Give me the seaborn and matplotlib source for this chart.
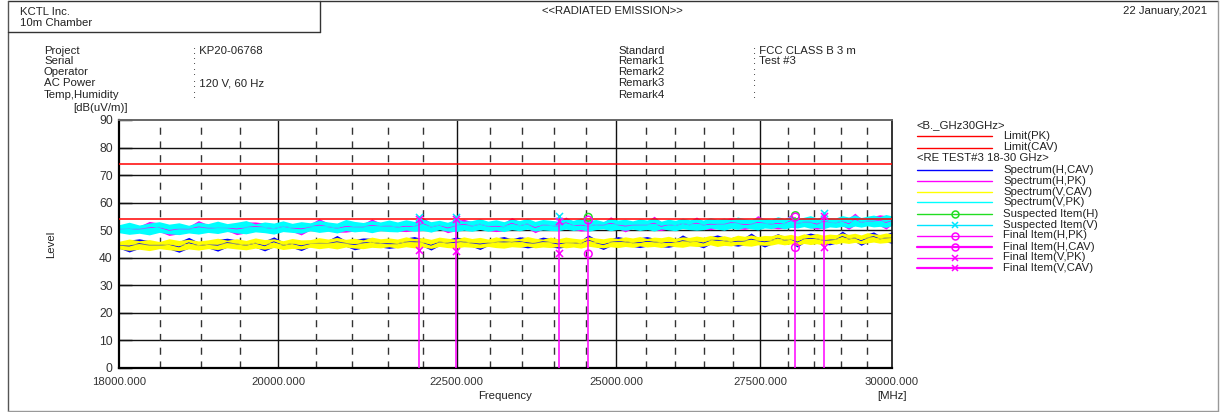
import numpy as np
import pandas as pd
import matplotlib
matplotlib.use("Agg")
import matplotlib.pyplot as plt
from matplotlib.lines import Line2D
from matplotlib.ticker import FixedLocator, NullLocator, MultipleLocator, FuncFormatter
import seaborn as sns

# ---------------- measurement data ----------------
F_START, F_STOP = 18000.0, 30000.0          # sweep span [MHz]
LIMIT_PK, LIMIT_CAV = 74.0, 54.0             # FCC class B limits [dB(uV/m)]

# Spectrum traces: per-sweep-bin minimum / maximum level [dB(uV/m)]
VPK_HI = [52.0, 52.9, 51.9, 52.6, 53.1, 52.2, 52.7, 51.8, 52.9, 52.4,
          53.3, 52.4, 52.9, 53.5, 52.3, 53.0, 52.6, 53.4, 52.5, 53.1,
          52.7, 53.6, 53.0, 52.6, 53.9, 53.2, 52.8, 53.5, 53.0, 53.7,
          53.0, 53.8, 53.2, 54.1, 53.1, 53.6, 52.9, 53.9, 53.3, 53.5,
          54.2, 53.3, 53.8, 53.1, 54.0, 53.5, 54.3, 53.2, 53.9, 53.6,
          53.3, 54.2, 53.6, 54.4, 53.5, 53.9, 53.2, 54.3, 53.7, 54.0,
          53.4, 54.1, 53.7, 54.5, 53.3, 54.0, 53.6, 54.4, 53.8, 54.2,
          53.7, 54.6, 54.0, 54.4, 53.8, 54.8, 54.2, 53.9, 54.7, 54.3,
          54.0, 54.9, 54.3, 55.1, 54.2, 54.7, 55.3, 54.4, 54.9, 54.6,
          54.5, 55.3, 54.8, 55.6, 54.6, 55.1, 55.5, 54.9, 55.7, 55.2]
VPK_LO = [49.1, 48.5, 48.9, 48.3, 49.2, 48.7, 48.4, 49.0, 48.6, 49.2,
          48.8, 49.5, 49.0, 48.7, 49.4, 49.1, 48.6, 49.5, 49.2, 48.9,
          49.8, 49.2, 49.6, 49.0, 49.9, 49.4, 49.7, 49.1, 49.8, 49.5,
          49.4, 50.1, 49.6, 49.9, 49.3, 50.2, 49.7, 49.5, 50.0, 49.6,
          50.3, 49.6, 50.1, 49.5, 50.2, 49.8, 50.4, 49.7, 50.1, 49.9,
          49.8, 50.4, 49.9, 50.3, 49.6, 50.2, 50.5, 49.8, 50.3, 50.0,
          50.4, 49.9, 50.3, 49.7, 50.5, 50.1, 49.8, 50.6, 50.2, 50.0,
          50.2, 50.8, 50.4, 50.0, 50.7, 50.3, 50.9, 50.5, 50.1, 50.8,
          50.6, 51.1, 50.5, 51.0, 50.8, 51.3, 50.7, 51.0, 50.5, 51.2,
          51.0, 51.4, 50.9, 51.5, 51.1, 51.6, 51.2, 51.4, 51.0, 51.7]
HPK_HI = [51.6, 52.4, 51.5, 53.2, 52.6, 51.8, 52.3, 51.4, 53.5, 52.0,
          52.8, 52.0, 52.5, 53.0, 53.0, 52.6, 52.2, 53.0, 52.1, 52.7,
          52.3, 54.2, 52.6, 52.2, 53.4, 52.8, 52.4, 54.1, 52.6, 53.3,
          52.6, 53.4, 52.8, 54.7, 52.7, 53.2, 52.5, 53.5, 54.0, 53.1,
          53.8, 52.9, 53.4, 52.7, 54.6, 53.1, 53.9, 52.8, 53.5, 53.2,
          52.9, 54.8, 53.2, 54.0, 53.1, 53.5, 52.8, 54.9, 53.3, 53.6,
          53.0, 53.7, 53.3, 55.1, 52.9, 53.6, 53.2, 54.0, 53.4, 54.8,
          53.3, 54.2, 53.6, 54.0, 54.5, 54.4, 53.8, 53.5, 55.3, 53.9,
          53.6, 54.5, 53.9, 55.7, 53.8, 54.3, 54.9, 54.0, 55.5, 54.2,
          54.1, 54.9, 54.4, 56.2, 54.2, 54.7, 55.1, 55.6, 55.3, 54.8]
HPK_LO = [49.4, 48.8, 49.2, 48.6, 49.5, 48.1, 48.7, 49.3, 48.9, 49.5,
          49.1, 49.8, 48.4, 49.0, 49.7, 49.4, 48.9, 49.8, 49.5, 48.3,
          50.1, 49.5, 49.9, 49.3, 49.3, 49.7, 50.0, 49.4, 50.1, 49.8,
          49.7, 49.5, 49.9, 50.2, 49.6, 50.5, 49.1, 49.8, 50.3, 49.9,
          50.6, 49.9, 49.5, 49.8, 50.5, 50.1, 50.7, 49.1, 50.4, 50.2,
          50.1, 50.7, 50.2, 49.7, 49.9, 50.5, 50.8, 50.1, 50.6, 49.4,
          50.7, 50.2, 50.6, 50.0, 49.9, 50.4, 50.1, 50.9, 50.5, 50.3,
          50.5, 50.2, 50.7, 50.3, 51.0, 50.6, 50.3, 50.8, 50.4, 51.1,
          50.9, 50.5, 50.8, 51.3, 51.1, 51.6, 51.0, 50.4, 50.8, 51.5,
          51.3, 51.7, 50.3, 51.8, 51.4, 51.9, 51.5, 51.7, 50.4, 52.0]
VCAV_HI = [46.0, 46.8, 46.2, 46.6, 45.9, 46.9, 46.3, 46.7, 46.1, 46.5,
           47.1, 46.4, 46.9, 46.3, 47.2, 46.6, 46.9, 46.2, 47.0, 46.5,
           46.6, 47.3, 46.8, 47.4, 46.7, 47.1, 46.5, 47.5, 46.9, 47.2,
           46.8, 47.6, 47.0, 47.3, 46.7, 47.5, 47.1, 46.8, 47.6, 47.0,
           47.4, 46.8, 47.6, 47.0, 47.3, 46.9, 47.7, 47.1, 46.8, 47.5,
           46.9, 47.5, 47.1, 46.8, 47.6, 47.2, 46.9, 47.4, 47.0, 47.6,
           47.2, 47.7, 47.0, 47.5, 47.3, 47.8, 47.1, 47.6, 47.4, 47.9,
           47.5, 48.1, 47.6, 48.0, 47.4, 48.2, 47.8, 48.3, 47.7, 48.1,
           48.0, 48.6, 48.1, 48.5, 47.9, 48.7, 48.3, 48.8, 48.2, 48.6,
           48.4, 49.0, 48.5, 48.9, 48.3, 49.1, 48.7, 48.5, 49.0, 48.8]
VCAV_LO = [43.2, 42.7, 43.1, 42.6, 43.3, 42.9, 42.6, 43.2, 42.8, 43.3,
           43.0, 43.6, 43.2, 42.9, 43.5, 43.1, 43.7, 43.0, 43.4, 43.2,
           43.8, 43.3, 43.7, 43.2, 43.9, 43.5, 43.3, 43.8, 43.6, 44.0,
           43.5, 44.0, 43.6, 43.9, 43.4, 44.1, 43.7, 43.5, 44.0, 43.8,
           43.6, 44.1, 43.7, 43.5, 44.0, 43.8, 44.2, 43.6, 43.9, 43.7,
           44.1, 43.6, 43.9, 43.5, 44.2, 43.8, 43.6, 44.0, 43.7, 44.1,
           43.8, 44.3, 43.9, 44.1, 43.7, 44.4, 44.0, 43.8, 44.3, 44.1,
           44.2, 44.7, 44.1, 44.5, 44.3, 44.8, 44.4, 44.2, 44.7, 44.5,
           44.6, 45.1, 44.7, 45.0, 44.5, 45.2, 44.8, 45.1, 44.6, 45.3,
           45.0, 45.5, 45.2, 45.6, 45.1, 45.4, 45.7, 45.3, 45.5, 45.8]
HCAV_HI = [45.6, 46.4, 46.9, 46.2, 45.5, 46.5, 45.9, 47.4, 45.7, 46.1,
           46.7, 47.1, 46.5, 45.9, 46.8, 46.2, 47.6, 45.8, 46.6, 46.1,
           46.2, 46.9, 46.4, 48.1, 46.3, 46.7, 47.2, 47.1, 46.5, 46.8,
           46.4, 47.2, 47.7, 46.9, 46.3, 47.1, 46.7, 47.5, 47.2, 46.6,
           47.0, 46.4, 47.2, 47.7, 46.9, 47.6, 47.3, 46.7, 47.5, 47.1,
           46.5, 47.1, 46.7, 46.4, 48.3, 46.8, 46.5, 47.0, 47.7, 47.2,
           46.8, 47.3, 47.7, 47.1, 46.9, 47.4, 46.7, 48.3, 47.0, 47.5,
           47.1, 47.7, 48.3, 47.6, 47.0, 47.8, 47.4, 49.0, 47.3, 47.7,
           47.6, 48.8, 47.7, 48.1, 47.5, 48.3, 49.0, 48.4, 47.8, 48.2,
           48.0, 49.7, 48.1, 48.5, 47.9, 48.7, 49.4, 48.1, 48.6, 49.5]
HCAV_LO = [43.5, 42.1, 43.4, 42.9, 43.6, 43.2, 42.0, 43.5, 43.1, 43.6,
           42.4, 43.9, 43.5, 43.2, 43.8, 42.5, 44.0, 43.3, 43.7, 42.6,
           44.1, 43.6, 44.0, 43.5, 44.2, 42.9, 43.6, 44.1, 43.9, 43.4,
           43.8, 44.3, 43.9, 44.2, 42.8, 44.4, 44.0, 43.8, 44.3, 44.1,
           43.0, 44.4, 44.0, 43.8, 44.3, 44.1, 43.6, 43.9, 44.2, 44.0,
           43.5, 43.9, 44.2, 43.8, 44.5, 44.1, 43.0, 44.3, 44.0, 44.4,
           44.1, 43.7, 44.2, 44.4, 44.0, 43.8, 44.3, 44.1, 44.6, 44.4,
           43.6, 45.0, 44.4, 44.8, 44.6, 44.2, 44.7, 44.5, 45.0, 43.9,
           44.9, 45.4, 45.0, 45.3, 43.9, 45.5, 45.1, 45.4, 44.9, 44.7,
           45.3, 45.8, 45.5, 45.9, 44.5, 45.7, 46.0, 45.6, 45.8, 45.2]

# Final measurement points
FINAL_FREQ = [21950, 22495, 24070, 24545, 28145, 28680]       # MHz
FINAL_POL = ["V", "V", "V", "H", "H", "V"]
SUSPECT_LEVEL = [54.7, 54.7, 55.2, 54.7, 55.3, 56.1]
FINAL_PK = [54.0, 54.0, 53.5, 53.7, 54.8, 55.3]
FINAL_CAV = [42.8, 42.6, 41.6, 41.4, 43.7, 44.0]

# Axis ticks
X_MAJOR = [18000, 20000, 22500, 25000, 27500, 30000]
X_MINOR = [18500, 19000, 19500, 20500, 21000, 21500, 22000, 23000, 23500,
           24000, 24500, 25500, 26000, 26500, 27000, 28000, 28500, 29000, 29500]

TRACE_ORDER = ["H,CAV", "H,PK", "V,CAV", "V,PK"]
TRACE_COLORS = {"H,CAV": "#0000ff", "H,PK": "#ff00ff",
                "V,CAV": "#ffff00", "V,PK": "#00ffff"}
RED, MAG, GREEN, CYAN = "#ff0000", "#ff00ff", "#22dd22", "#00e5ff"
TXT = "#222222"
FS = 8.2

# ---------------- figure ----------------
sns.set_style("white")
plt.rcParams["font.family"] = ["Liberation Sans", "DejaVu Sans"]
plt.rcParams["lines.scale_dashes"] = False

W, H = 1226, 412
fig = plt.figure(figsize=(W / 100, H / 100), dpi=100)
fig.patch.set_facecolor("white")


def fx(x):
    return x / W


def fy(y):
    return 1 - y / H


def put(x, y, s, **kw):
    kw.setdefault("fontsize", FS)
    kw.setdefault("color", TXT)
    kw.setdefault("va", "center")
    fig.text(fx(x), fy(y), s, **kw)


def fline(x0, y0, x1, y1, **kw):
    fig.add_artist(Line2D([fx(x0), fx(x1)], [fy(y0), fy(y1)],
                          transform=fig.transFigure, **kw))


# page frame and company box
fline(7.5, 1, 1218, 1, color="#333333", lw=1)
fline(7.5, 1, 7.5, 410.5, color="#555555", lw=1)
fline(7.5, 410.5, 1218, 410.5, color="#999999", lw=1)
fline(1218, 1, 1218, 410.5, color="#999999", lw=1)
fline(320, 1, 320, 32, color="#333333", lw=1)
fline(7.5, 32, 320, 32, color="#333333", lw=1)

put(20, 12, "KCTL Inc.")
put(20, 23.5, "10m Chamber")
put(612, 11, "<<RADIATED EMISSION>>", ha="center")
put(1207, 11, "22 January,2021", ha="right")

info_y = [51, 61.5, 72, 83, 94.5]
for y, lab, val in zip(info_y,
                       ["Project", "Serial", "Operator", "AC Power", "Temp,Humidity"],
                       [": KP20-06768", ":", ":", ": 120 V, 60 Hz", ":"]):
    put(44, y, lab)
    put(193, y, val)
for y, lab, val in zip(info_y,
                       ["Standard", "Remark1", "Remark2", "Remark3", "Remark4"],
                       [": FCC CLASS B 3 m", ": Test #3", ":", ":", ":"]):
    put(618, y, lab)
    put(753, y, val)

put(101, 108, "[dB(uV/m)]", ha="center")
put(51, 244, "Level", ha="center", rotation=90)
put(505, 396, "Frequency", ha="center")
put(892, 396, "[MHz]", ha="center")

# ---------------- plot area ----------------
ax = fig.add_axes([fx(119), fy(368), (892 - 119) / W, (368 - 120) / H])
ax.set_xscale("log")
ax.set_xlim(F_START, F_STOP)
ax.set_ylim(0, 90)

# grid: solid majors, short-dashed 500 MHz minors
for f in X_MAJOR[1:-1]:
    ax.axvline(f, color="#111111", lw=1, zorder=0.5)
for lv in range(10, 90, 10):
    ax.axhline(lv, color="#111111", lw=1, zorder=0.5)
for f in X_MINOR:
    ax.axvline(f, color="#333333", lw=1, zorder=0.5,
               linestyle=(0, (5.1, 4.8)))

# spectrum traces: min-max band per sweep bin
freq = np.linspace(F_START, F_STOP, len(VPK_HI))
traces = {"H,CAV": (HCAV_LO, HCAV_HI), "H,PK": (HPK_LO, HPK_HI),
          "V,CAV": (VCAV_LO, VCAV_HI), "V,PK": (VPK_LO, VPK_HI)}
spec = pd.concat(
    [pd.DataFrame({"freq": np.concatenate([freq, freq]),
                   "level": np.concatenate([lo, hi]),
                   "trace": name})
     for name, (lo, hi) in traces.items()],
    ignore_index=True)
sns.lineplot(data=spec, x="freq", y="level", hue="trace",
             hue_order=TRACE_ORDER, palette=TRACE_COLORS,
             estimator="mean", errorbar=("pi", 100),
             err_kws={"alpha": 1, "linewidth": 0},
             linewidth=0.6, legend=False, ax=ax, zorder=2)

# limit lines
lim = pd.DataFrame({"freq": [F_START, F_STOP, F_START, F_STOP],
                    "level": [LIMIT_PK, LIMIT_PK, LIMIT_CAV, LIMIT_CAV],
                    "limit": ["PK", "PK", "CAV", "CAV"]})
sns.lineplot(data=lim, x="freq", y="level", hue="limit",
             palette={"PK": RED, "CAV": RED}, estimator=None,
             linewidth=1.1, legend=False, ax=ax, zorder=3)

# final items: stems and markers
ax.vlines(FINAL_FREQ, 0, FINAL_PK, colors=MAG, lw=1.1, zorder=4)
for f, pol, s, pk, cav in zip(FINAL_FREQ, FINAL_POL, SUSPECT_LEVEL,
                              FINAL_PK, FINAL_CAV):
    if pol == "V":
        ax.scatter([f], [s], marker="x", s=26, color=CYAN, linewidths=1.1, zorder=5)
        ax.scatter([f, f], [pk, cav], marker="x", s=26, color=MAG,
                   linewidths=1.1, zorder=6)
    else:
        ax.scatter([f], [s], marker="o", s=30, facecolors="none",
                   edgecolors=GREEN, linewidths=1.1, zorder=5)
        ax.scatter([f, f], [pk, cav], marker="o", s=30, facecolors="none",
                   edgecolors=MAG, linewidths=1.1, zorder=6)

# axes styling
ax.set_xlabel("")
ax.set_ylabel("")
ax.xaxis.set_major_locator(FixedLocator(X_MAJOR))
ax.xaxis.set_minor_locator(NullLocator())
ax.xaxis.set_major_formatter(FuncFormatter(lambda v, p: f"{v:.3f}"))
ax.yaxis.set_major_locator(MultipleLocator(10))
ax.yaxis.set_minor_locator(MultipleLocator(2))
ax.yaxis.set_major_formatter(FuncFormatter(lambda v, p: f"{v:.0f}"))
ax.tick_params(axis="x", length=0, pad=6.5, labelsize=8.2, labelcolor="#333333")
ax.tick_params(axis="y", which="major", direction="in", length=9.4, width=1,
               pad=4.5, labelsize=8.7, labelcolor="#333333", color="#111111")
ax.tick_params(axis="y", which="minor", direction="in", length=4.3, width=1,
               color="#111111")
ax.tick_params(axis="both", top=False, right=False, bottom=False, left=True)
for side, col, w in [("left", "#000000", 1.6), ("bottom", "#000000", 1.6),
                     ("right", "#111111", 1.2), ("top", "#666666", 1.4)]:
    ax.spines[side].set_visible(True)
    ax.spines[side].set_color(col)
    ax.spines[side].set_linewidth(w)
ax.set_facecolor("white")

# ---------------- legend ----------------
LX0, LX1, LXT = 917, 992, 1003
put(LX0, 125.5, "<B._GHz30GHz>")
put(LX0, 158, "<RE TEST#3 18-30 GHz>")
legend_rows = [
    (136, "Limit(PK)", RED, None, 1.0),
    (147.5, "Limit(CAV)", RED, None, 1.0),
    (170, "Spectrum(H,CAV)", "#0000ff", None, 1.0),
    (181, "Spectrum(H,PK)", "#ff00ff", None, 1.0),
    (191.5, "Spectrum(V,CAV)", "#ffff00", None, 1.0),
    (202, "Spectrum(V,PK)", "#00ffff", None, 1.0),
    (213.5, "Suspected Item(H)", GREEN, "o", 1.0),
    (224.5, "Suspected Item(V)", CYAN, "x", 1.0),
    (235.5, "Final Item(H,PK)", MAG, "o", 1.0),
    (247, "Final Item(H,CAV)", MAG, "o", 1.6),
    (257.5, "Final Item(V,PK)", MAG, "x", 1.0),
    (268, "Final Item(V,CAV)", MAG, "x", 1.6),
]
for y, label, col, mk, lw in legend_rows:
    fline(LX0, y, LX1, y, color=col, lw=lw)
    if mk is not None:
        fig.add_artist(Line2D([fx((LX0 + LX1) / 2)], [fy(y)],
                              transform=fig.transFigure, marker=mk,
                              markersize=5, markerfacecolor="none",
                              markeredgecolor=col, markeredgewidth=1.1,
                              linestyle="none"))
    put(LXT, y, label)

fig.savefig("out.png", dpi=100, facecolor="white")
